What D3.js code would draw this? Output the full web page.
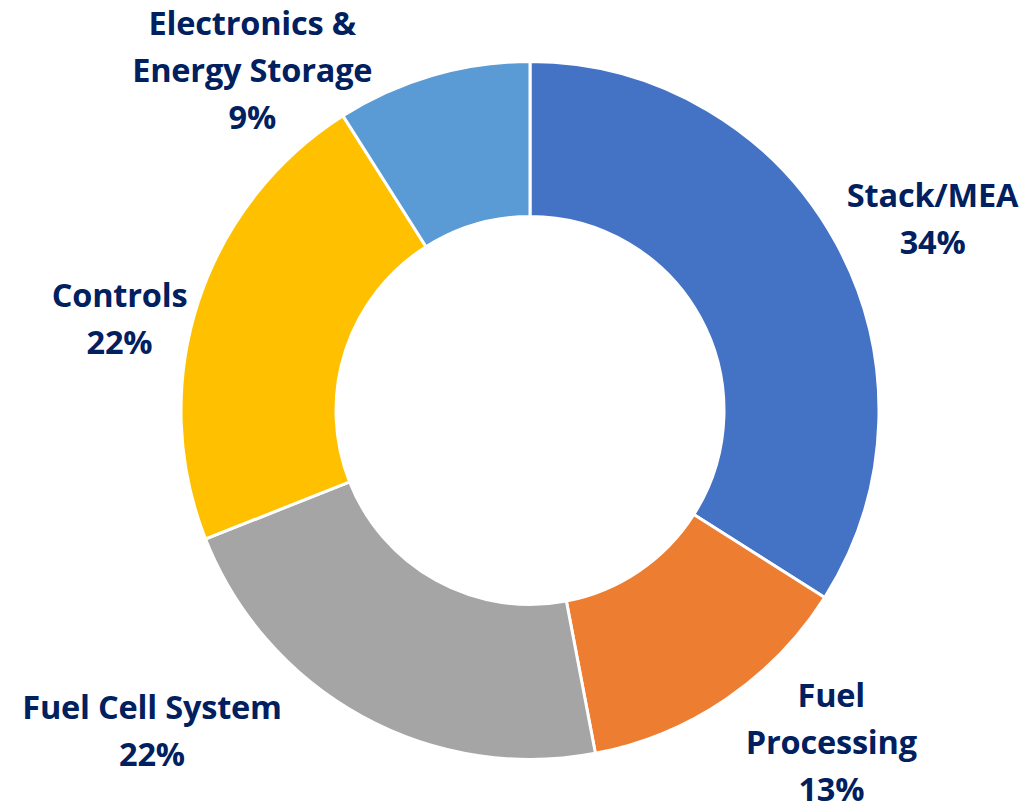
<!DOCTYPE html>
<html>
<head>
<meta charset="utf-8">
<script src="https://cdn.jsdelivr.net/npm/d3@7"></script>
<style>
  html, body { margin: 0; padding: 0; background: #ffffff; }
  svg { display: block; }
</style>
</head>
<body>
<svg id="chart" width="1035" height="808"></svg>
<script>
// ---- data ----
const categories = ["Stack/MEA", "Fuel Processing", "Fuel Cell System", "Controls", "Electronics & Energy Storage"];
const values = [34, 13, 22, 22, 9];
const labelLines = [["Stack/MEA"], ["Fuel", "Processing"], ["Fuel Cell System"], ["Controls"], ["Electronics &", "Energy Storage"]];
const colors = ["#4472C4", "#ED7D31", "#A5A5A5", "#FFC000", "#5B9BD5"];
// manual label nudges (like dragged data labels), relative to label-radius centroid
const labelNudge = [[17, 21], [54, -31], [-166, -64], [8, 45], [-155, 84]];

// ---- layout ----
const W = 1035, H = 808;
const cx = 530, cy = 410.5;
const outerR = 349, innerR = 194, labelR = 440;
const lineH = 47, capHalf = 10.5;

const svg = d3.select("#chart");
const g = svg.append("g").attr("transform", `translate(${cx},${cy})`);

const data = categories.map((c, i) => ({ name: c, value: values[i], lines: labelLines[i], color: colors[i], nudge: labelNudge[i] }));

const pie = d3.pie().value(d => d.value).sort(null);
const arcs = pie(data);
const arc = d3.arc().innerRadius(innerR).outerRadius(outerR);
const labelArc = d3.arc().innerRadius(labelR).outerRadius(labelR);

g.selectAll("path.slice")
  .data(arcs)
  .join("path")
  .attr("class", "slice")
  .attr("d", arc)
  .attr("fill", d => d.data.color)
  .attr("stroke", "#ffffff")
  .attr("stroke-width", 3)
  .attr("stroke-linejoin", "miter");

const labels = g.selectAll("text.lbl")
  .data(arcs)
  .join("text")
  .attr("class", "lbl")
  .attr("text-anchor", "middle")
  .attr("font-family", "'Open Sans', Lato, sans-serif")
  .attr("font-weight", 700)
  .attr("font-size", 32.5)
  .attr("letter-spacing", "-0.2px")
  .attr("fill", "#002060");

labels.each(function(d) {
  const [x0, y0] = labelArc.centroid(d);
  const x = x0 + d.data.nudge[0];
  const yc = y0 + d.data.nudge[1];
  const lines = d.data.lines.concat([d.data.value + "%"]);
  const n = lines.length;
  const t = d3.select(this);
  lines.forEach((ln, i) => {
    t.append("tspan")
      .attr("x", x)
      .attr("y", yc + (i - (n - 1) / 2) * lineH + capHalf)
      .text(ln);
  });
});
</script>
</body>
</html>
